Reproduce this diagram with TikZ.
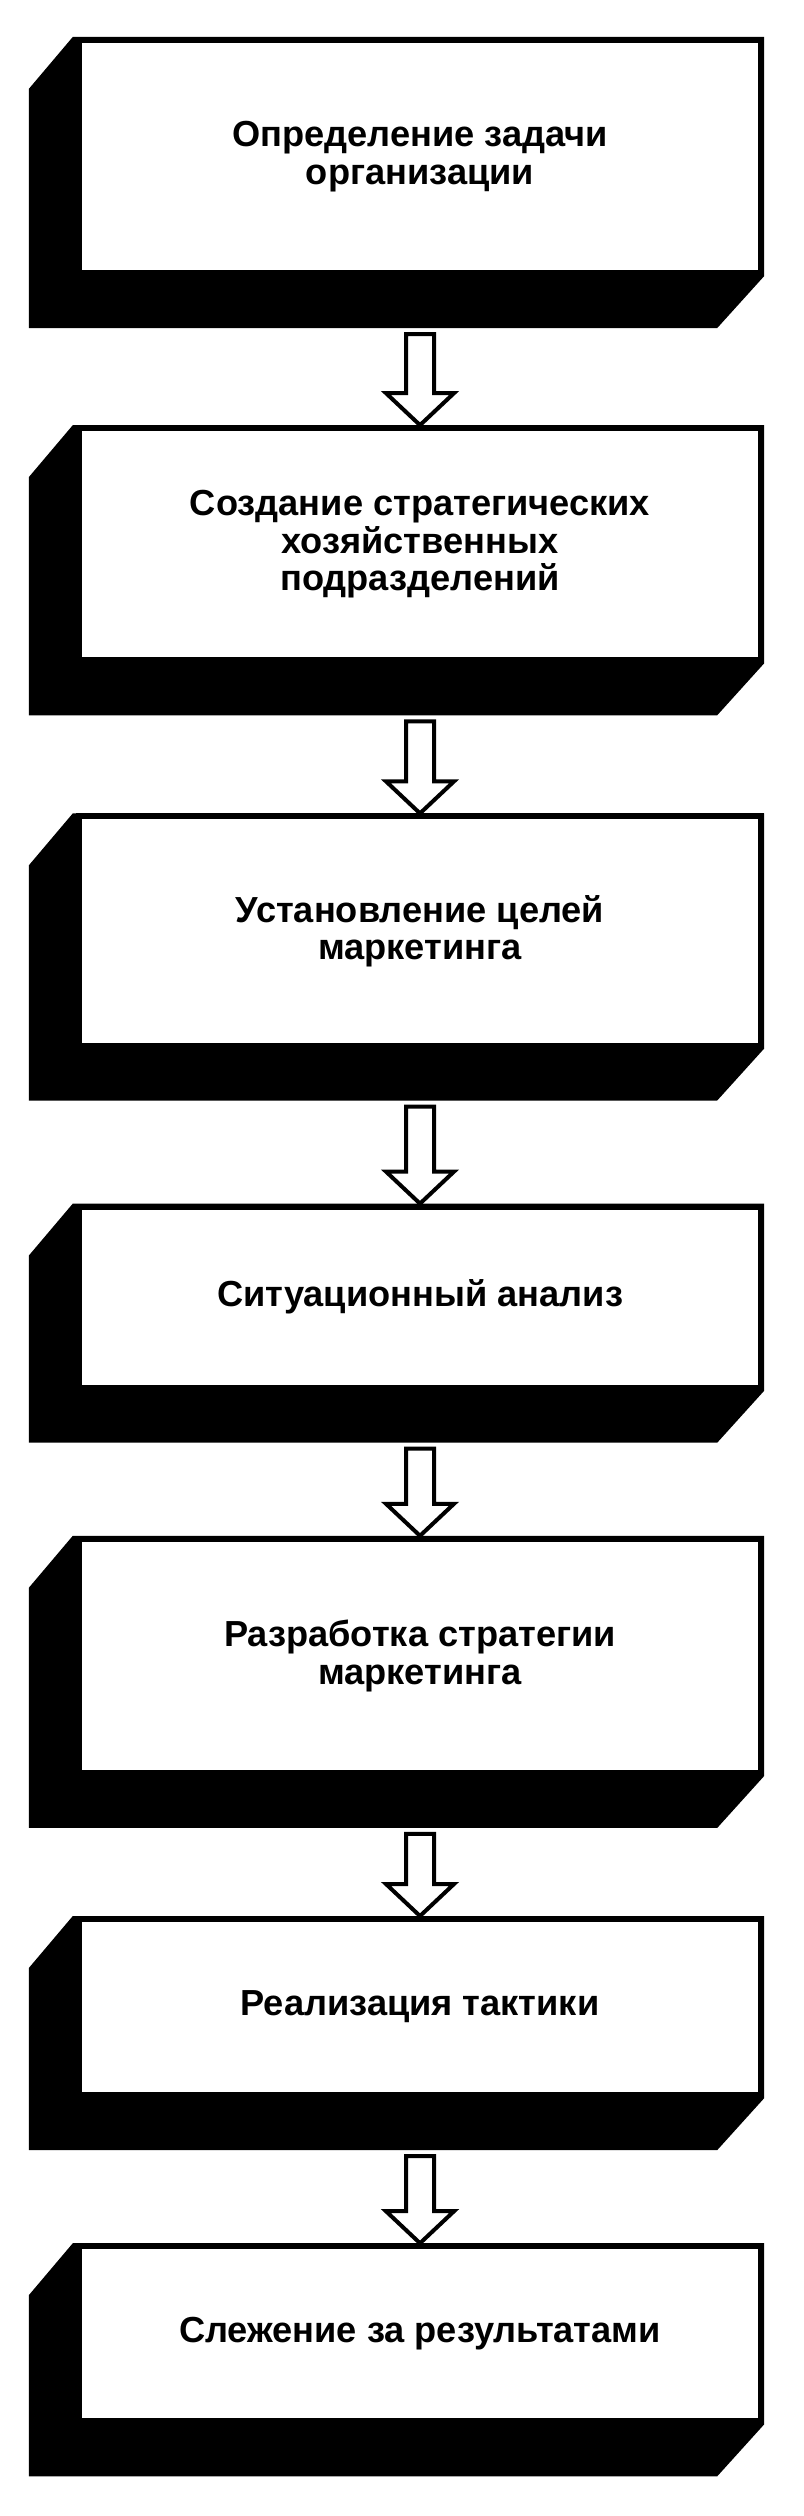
\documentclass[tikz,border=0pt]{standalone}
\usepackage{fontspec}
\setmainfont{Liberation Sans}
\usetikzlibrary{calc,positioning,backgrounds}
\tikzset{face/.style={draw,line width=0.06cm,fill=white,minimum width=6.82cm,align=center,inner sep=0pt,font=\fontsize{10.3}{10.6}\selectfont\bfseries},barr/.style={line width=0.04cm,line join=miter}}
% black side of a block, drawn behind the front face
\newcommand\boxshade[1]{\fill ($(#1.north west)+(-3,0)$) -- ++(-44,-52) |- ($(#1.south east)+(-47,-52)$) -- (#1.south east) -- (#1.north east) -- cycle;}
% hollow arrow from the block #1 down to the block #2
\newcommand\downarr[2]{\draw[barr] ($(#1.south)+(-14,-58)$) -- ($(#2.north)+(-14,32)$) -- ++(-20,0) -- (#2.north) -- ($(#2.north)+(34,32)$) -- ++(-20,0) -- ($(#1.south)+(14,-58)$) -- cycle;}

\begin{document}
\begin{tikzpicture}[x=0.01cm,y=0.01cm]
\useasboundingbox (0,0) rectangle (804,-2516);
\node[face,minimum height=2.33cm](f1)at(420,-156.5){Определение задачи\\организации};
\node[face,minimum height=2.32cm,below=1.49cm of f1](f2){Создание стратегических\\хозяйственных\\подразделений};
\node[face,minimum height=2.29cm,below=1.50cm of f2](f3){Установление целей\\маркетинга};
\node[face,minimum height=1.81cm,below=1.55cm of f3](f4){Ситуационный анализ};
\node[face,minimum height=2.34cm,below=1.45cm of f4](f5){Разработка стратегии\\маркетинга};
\node[face,minimum height=1.76cm,below=1.40cm of f5](f6){Реализация тактики};
\node[face,minimum height=1.75cm,below=1.45cm of f6](f7){Слежение за результатами};
\begin{scope}[on background layer]
\boxshade{f1}\boxshade{f2}\boxshade{f3}\boxshade{f4}\boxshade{f5}\boxshade{f6}\boxshade{f7}
\end{scope}
\downarr{f1}{f2}\downarr{f2}{f3}\downarr{f3}{f4}\downarr{f4}{f5}\downarr{f5}{f6}\downarr{f6}{f7}
\end{tikzpicture}
\end{document}
